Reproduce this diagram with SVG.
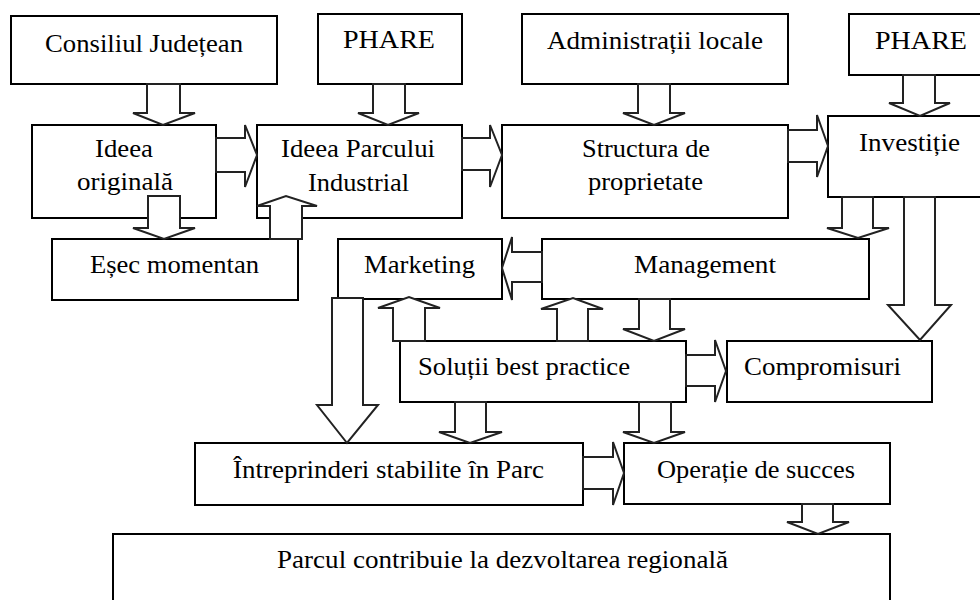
<svg xmlns="http://www.w3.org/2000/svg" width="980" height="600" viewBox="0 0 980 600">
<style>
.box{fill:#fff;stroke:#000;stroke-width:2}
.arr{fill:#fff;stroke:#222;stroke-width:2;stroke-linejoin:miter}
text{font-family:"Liberation Serif","Times New Roman",serif;font-size:26px;fill:#000}
</style>
<rect width="980" height="600" fill="#fff"/>
<g id="nodes">
<g id="n-consiliul"><rect class="box" x="11" y="16" width="266" height="68"/><text x="45" y="52" textLength="198" lengthAdjust="spacingAndGlyphs">Consiliul Județean</text></g>
<g id="n-phare1"><rect class="box" x="318" y="14" width="144" height="70"/><text x="343" y="48" textLength="92" lengthAdjust="spacingAndGlyphs">PHARE</text></g>
<g id="n-admin"><rect class="box" x="522" y="14" width="266" height="70"/><text x="547" y="49" textLength="216" lengthAdjust="spacingAndGlyphs">Administrații locale</text></g>
<g id="n-phare2"><rect class="box" x="849" y="14" width="141" height="61"/><text x="875" y="49" textLength="92" lengthAdjust="spacingAndGlyphs">PHARE</text></g>
<g id="n-ideea-orig"><rect class="box" x="32" y="125" width="184" height="93"/><text x="95" y="157" textLength="58" lengthAdjust="spacingAndGlyphs">Ideea</text><text x="77" y="190" textLength="96" lengthAdjust="spacingAndGlyphs">originală</text></g>
<g id="n-ideea-parc"><rect class="box" x="257" y="125" width="205" height="93"/><text x="281" y="157" textLength="154" lengthAdjust="spacingAndGlyphs">Ideea Parcului</text><text x="308" y="191" textLength="101" lengthAdjust="spacingAndGlyphs">Industrial</text></g>
<g id="n-structura"><rect class="box" x="502" y="125" width="286" height="93"/><text x="582" y="157" textLength="128" lengthAdjust="spacingAndGlyphs">Structura de</text><text x="588" y="190" textLength="115" lengthAdjust="spacingAndGlyphs">proprietate</text></g>
<g id="n-investitie"><rect class="box" x="828" y="116" width="162" height="81"/><text x="859" y="151" textLength="101" lengthAdjust="spacingAndGlyphs">Investiție</text></g>
<g id="n-esec"><rect class="box" x="52" y="239" width="246" height="61"/><text x="90" y="273" textLength="169" lengthAdjust="spacingAndGlyphs">Eșec momentan</text></g>
<g id="n-marketing"><rect class="box" x="338" y="239" width="164" height="60"/><text x="364" y="273" textLength="111" lengthAdjust="spacingAndGlyphs">Marketing</text></g>
<g id="n-management"><rect class="box" x="542" y="239" width="327" height="60"/><text x="634" y="273" textLength="142" lengthAdjust="spacingAndGlyphs">Management</text></g>
<g id="n-solutii"><rect class="box" x="400" y="341" width="286" height="61"/><text x="418" y="375" textLength="212" lengthAdjust="spacingAndGlyphs">Soluții best practice</text></g>
<g id="n-compromisuri"><rect class="box" x="727" y="341" width="205" height="61"/><text x="744" y="375" textLength="157" lengthAdjust="spacingAndGlyphs">Compromisuri</text></g>
<g id="n-intreprinderi"><rect class="box" x="195" y="443" width="388" height="62"/><text x="233" y="478" textLength="311" lengthAdjust="spacingAndGlyphs">Întreprinderi stabilite în Parc</text></g>
<g id="n-operatie"><rect class="box" x="624" y="443" width="266" height="61"/><text x="657" y="478" textLength="198" lengthAdjust="spacingAndGlyphs">Operație de succes</text></g>
<g id="n-parcul"><rect class="box" x="113" y="534" width="777" height="80"/><text x="277" y="568" textLength="451" lengthAdjust="spacingAndGlyphs">Parcul contribuie la dezvoltarea regională</text></g>
</g>
<g id="connectors">
<!-- down arrows -->
<polygon class="arr" points="147,84 180,84 180,113 195,113 163,125 133,113 147,113"/>
<polygon class="arr" points="373,84 405,84 405,113 419,113 388,125 358,113 373,113"/>
<polygon class="arr" points="638,84 670,84 670,113 685,113 654,125 623,113 638,113"/>
<polygon class="arr" points="903,75 935,75 935,103 950,103 920,116 889,103 903,103"/>
<polygon class="arr" points="148,196 180,196 180,228 195,228 164,239 133,228 148,228"/>
<polygon class="arr" points="842,197 873,197 873,228 889,228 858,238 827,228 842,228"/>
<polygon class="arr" points="904,197 935,197 935,305 951,305 920,340 888,305 904,305"/>
<polygon class="arr" points="332,298 363,298 363,405 378,405 347,443 317,405 332,405"/>
<polygon class="arr" points="639,299 670,299 670,329 685,329 654,341 623,329 639,329"/>
<polygon class="arr" points="455,402 486,402 486,432 502,432 470,443 439,432 455,432"/>
<polygon class="arr" points="639,402 671,402 671,432 685,432 654,443 623,432 639,432"/>
<polygon class="arr" points="802,504 833,504 833,522 849,522 818,534 787,522 802,522"/>
<!-- up arrows -->
<polygon class="arr" points="270,239 302,239 302,206 317,206 286,196 257,206 270,206"/>
<polygon class="arr" points="393,341 425,341 425,308 440,308 409,297 378,308 393,308"/>
<polygon class="arr" points="557,341 588,341 588,309 603,309 573,298 541,309 557,309"/>
<!-- right arrows -->
<polygon class="arr" points="216,138 245,138 245,125 257,155 245,187 245,172 216,172"/>
<polygon class="arr" points="462,138 490,138 490,125 502,155 490,187 490,170 462,170"/>
<polygon class="arr" points="788,130 817,130 817,115 828,146 817,177 817,162 788,162"/>
<polygon class="arr" points="686,355 715,355 715,340 726,371 715,402 715,386 686,386"/>
<polygon class="arr" points="583,457 613,457 613,442 624,473 613,505 613,489 583,489"/>
<!-- left arrow -->
<polygon class="arr" points="542,252 512,252 512,237 502,268 512,300 512,282 542,282"/>
</g>
</svg>
